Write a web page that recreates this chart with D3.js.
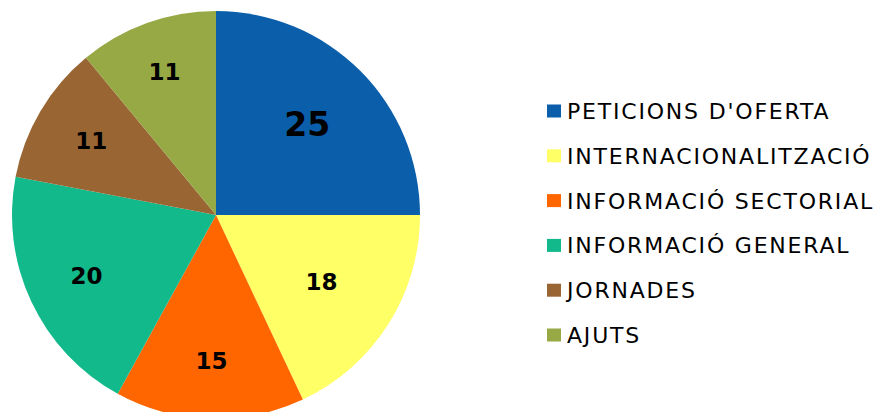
<!DOCTYPE html>
<html>
<head>
<meta charset="utf-8">
<script src="https://cdn.jsdelivr.net/npm/d3@7"></script>
<style>
  body { margin: 0; background: #fff; }
  text { font-family: "DejaVu Sans", Verdana, sans-serif; }
</style>
</head>
<body>
<script>
const width = 875
const height = 412

const categories = ['PETICIONS D\'OFERTA', 'INTERNACIONALITZACIÓ', 'INFORMACIÓ SECTORIAL', 'INFORMACIÓ GENERAL', 'JORNADES', 'AJUTS']
const values = [25, 18, 15, 20, 11, 11]
const colors = ['#0B5EAA', '#FFFF66', '#FF6600', '#12B98A', '#996633', '#97A945']

const cx = 216, cy = 215
const radius = 204
// best-fit label distance from the centre, per slice
const labelRadii = [129, 125, 146, 143, 145, 152]

const svg = d3.select('body').append('svg')
  .attr('width', width)
  .attr('height', height)

const pie = d3.pie().sort(null).value(d => d)
const arc = d3.arc().innerRadius(0).outerRadius(radius)
const labelPos = (d, i) => d3.arc().innerRadius(labelRadii[i]).outerRadius(labelRadii[i]).centroid(d)

const g = svg.append('g').attr('transform', `translate(${cx},${cy})`)

const slices = g.selectAll('.slice')
  .data(pie(values))
  .enter().append('g')
  .attr('class', 'slice')

slices.append('path')
  .attr('d', arc)
  .style('fill', (d, i) => colors[i])

slices.append('text')
  .attr('transform', (d, i) => `translate(${labelPos(d, i)})`)
  .attr('text-anchor', 'middle')
  .attr('dy', '0.36em')
  .style('font-weight', 'bold')
  .style('font-size', (d, i) => i === 0 ? '33px' : '23px')
  .text(d => d.data)

// legend
const legend = svg.append('g').attr('transform', 'translate(547,111)')
const row = legend.selectAll('.row')
  .data(categories)
  .enter().append('g')
  .attr('class', 'row')
  .attr('transform', (d, i) => `translate(0,${i * 44.8})`)

row.append('rect')
  .attr('x', 0)
  .attr('y', -6.5)
  .attr('width', 14)
  .attr('height', 13)
  .style('fill', (d, i) => colors[i])

row.append('text')
  .attr('x', 20)
  .attr('dy', '0.36em')
  .style('font-size', '22px')
  .style('letter-spacing', '1.8px')
  .style('fill', '#000')
  .text(d => d)
</script>
</body>
</html>
